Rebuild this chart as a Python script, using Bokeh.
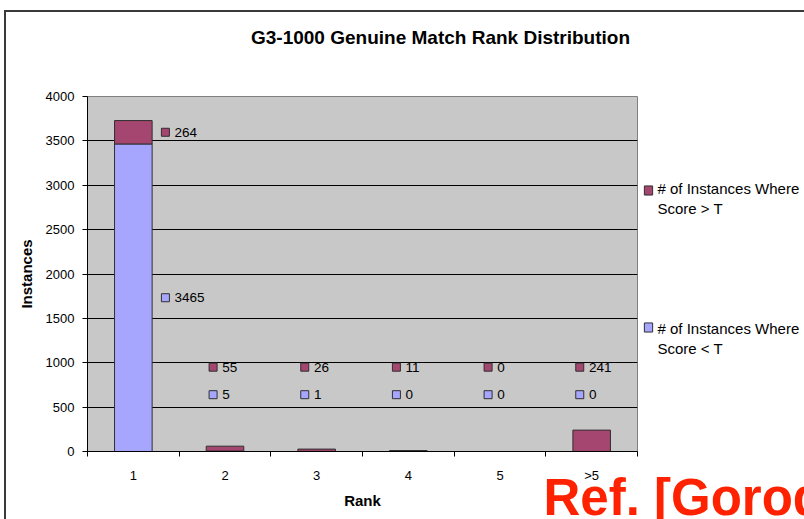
from bokeh.plotting import figure
from bokeh.models import (Range1d, FixedTicker, Label, ColumnDataSource,
                          InlineStyleSheet)
from bokeh.embed import file_html
from bokeh.resources import INLINE
from bokeh.core.properties import value

# Genuine match rank distribution for G3-1000
ranks = ["1", "2", "3", "4", "5", ">5"]
score_below_t = [3465, 5, 1, 0, 0, 0]
score_above_t = [264, 55, 26, 11, 0, 241]
y_ticks = [0, 500, 1000, 1500, 2000, 2500, 3000, 3500, 4000]
series_names = [("# of Instances Where", "Score > T"),
                ("# of Instances Where", "Score < T")]

FONT = "Liberation Sans"
BLUE = "#A6A6FF"
RED = "#A4466F"
EDGE = "#303030"

# plot frame placement on the page (pixels)
W, H = 804, 519
FL, FR, FT, FB = 87, 637, 96, 451
Y_MAX = y_ticks[-1]
N = len(ranks)


def dx(px):
    return (px - FL) / (FR - FL) * N


def dy(py):
    return (FB - py) / (FB - FT) * Y_MAX


centers = [i + 0.5 for i in range(N)]
src = ColumnDataSource(dict(x=centers, below=score_below_t, above=score_above_t))

p = figure(width=W, height=H, x_range=Range1d(0, N), y_range=Range1d(0, Y_MAX),
           output_backend="svg", toolbar_location=None,
           min_border_left=FL, min_border_right=W - FR,
           min_border_top=FT, min_border_bottom=H - FB,
           background_fill_color="#C8C8C8", border_fill_color="white",
           outline_line_color="#808080", outline_line_width=1)

# chart-area frame drawn over the canvas
p.stylesheets = [InlineStyleSheet(css="""
:host { position: relative; }
:host::after {
  content: ""; position: absolute; left: 4px; top: 10px; right: 0; bottom: 0;
  border-left: 2px solid #3a3a3a; border-top: 2px solid #3a3a3a;
  pointer-events: none;
}
""")]

bars = p.vbar_stack(["below", "above"], x="x", width=0.41, source=src,
                    fill_color=[BLUE, RED], line_color=EDGE, line_width=1)

# axes
p.xaxis.ticker = FixedTicker(ticks=centers, minor_ticks=list(range(N + 1)))
p.xaxis.major_label_overrides = {c: r for c, r in zip(centers, ranks)}
p.xaxis.major_tick_out = 5
p.xaxis.major_tick_in = 0
p.xaxis.minor_tick_out = 5
p.xaxis.minor_tick_in = 0
p.xaxis.minor_tick_line_color = "black"
p.xaxis.major_label_standoff = 11
p.xaxis.axis_label = "Rank"
p.xaxis.axis_label_standoff = 6

p.yaxis.ticker = FixedTicker(ticks=y_ticks)
p.yaxis.major_tick_out = 5
p.yaxis.major_tick_in = 0
p.yaxis.minor_tick_line_color = None
p.yaxis.major_label_standoff = 8
p.yaxis.axis_label = "Instances"
p.yaxis.axis_label_standoff = 8

for ax in (p.xaxis, p.yaxis):
    ax.axis_line_color = "black"
    ax.major_label_text_font = FONT
    ax.major_label_text_font_size = "13px"
    ax.major_label_text_color = "black"
    ax.axis_label_text_font = FONT
    ax.axis_label_text_font_size = "15px"
    ax.axis_label_text_font_style = "bold"
    ax.axis_label_text_color = "black"
p.yaxis.major_tick_line_color = "black"
p.xaxis.major_tick_line_color = None

p.xgrid.visible = False
p.ygrid.grid_line_color = "black"
p.ygrid.grid_line_width = 1

# data labels: at the segment middle, lifted into a readable lane for short bars
RED_LANE, BLUE_LANE = 950, 640
lab_x, lab_tx, lab_y, lab_t, lab_c = [], [], [], [], []
for c, lo, hi in zip(centers, score_below_t, score_above_t):
    for val, mid, lane, col in ((hi, lo + hi / 2, RED_LANE, RED),
                                (lo, lo / 2, BLUE_LANE, BLUE)):
        y = max(mid, lane)
        mx = c + 0.35 if mid >= lane else c - 0.13
        lab_x.append(mx)
        lab_tx.append(mx + 0.1)
        lab_y.append(y)
        lab_t.append(str(val))
        lab_c.append(col)

lsrc = ColumnDataSource(dict(x=lab_x, tx=lab_tx, y=lab_y, t=lab_t, c=lab_c))
p.scatter("x", "y", source=lsrc, marker="square", size=8, fill_color="c",
          line_color=EDGE, line_width=1)
p.text("tx", "y", text="t", source=lsrc, text_font=value(FONT),
       text_font_size="13.5px", text_baseline="middle", text_align="left",
       text_color="black")

# legend: key boxes plus one text block, all in the right panel
KEY_Y = [190, 327]
for col, py in zip([RED, BLUE], KEY_Y):
    p.add_layout(Label(x=dx(648), y=dy(py), text=" ", text_font_size="1px",
                       text_align="center", text_baseline="middle", padding=4,
                       background_fill_color=col, border_line_color=EDGE,
                       border_line_width=1), "right")

PITCH = (KEY_Y[1] - KEY_Y[0]) / 7
legend_lines = ([series_names[0][0], series_names[0][1]] + [" "] * 5
                + [series_names[1][0], series_names[1][1]])
LEG_FS = 15
LINE_BOX = 1.109  # line box height of the font, in ems
p.add_layout(Label(x=dx(657), y=dy(KEY_Y[0] + PITCH * (len(legend_lines) - 1) / 2),
                   text="\n".join(legend_lines), text_font=FONT,
                   text_font_size=f"{LEG_FS}px",
                   text_line_height=PITCH / (LEG_FS * LINE_BOX),
                   text_baseline="middle", text_align="left", text_color="black"),
             "right")

# chart title and reference note in the top panel
p.add_layout(Label(x=dx(440), y=dy(37), text="G3-1000 Genuine Match Rank Distribution",
                   text_font=FONT, text_font_size="19px", text_font_style="bold",
                   text_align="center", text_baseline="middle", text_color="black"),
             "above")
p.add_layout(Label(x=dx(543), y=dy(497), text="Ref. [Gorodnichy]", text_font=FONT,
                   text_font_size="51px", text_font_style="bold", text_color="#FF2200",
                   text_align="left", text_baseline="alphabetic"), "above")

open("out.html", "w").write(file_html(p, INLINE))
